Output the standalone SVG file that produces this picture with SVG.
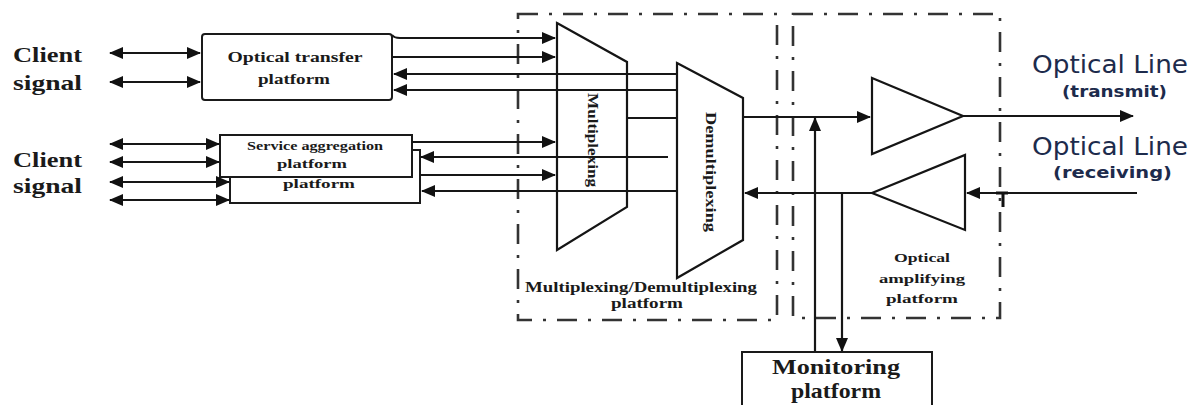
<svg xmlns="http://www.w3.org/2000/svg" width="1195" height="405" viewBox="0 0 1195 405">
<style>
.ln{stroke:#161616;stroke-width:2.2;fill:none}
.ar{marker-end:url(#ah)}
.da{marker-start:url(#ah);marker-end:url(#ah)}
.box{fill:#fff;stroke:#1a1a1a;stroke-width:2}
.dash{fill:none;stroke:#333;stroke-width:2.6;stroke-dasharray:20 11 3 11}
.lbl{font-family:"Liberation Serif","Times New Roman",serif;font-weight:bold;fill:#1a1a1a}
.ol{font-family:"DejaVu Sans",Verdana,sans-serif;fill:#1d2b4c}
</style>
<defs>
<marker id="ah" markerUnits="userSpaceOnUse" markerWidth="14" markerHeight="12" refX="13" refY="6" orient="auto-start-reverse" viewBox="0 0 14 12">
<path d="M0,0 L14,6 L0,12 z" fill="#111"/>
</marker>
</defs>
<rect width="1195" height="405" fill="#fff"/>

<g id="containers">
<path class="dash" d="M518,14 H777 V320 H518 Z"/>
<path class="dash" d="M793,14 H1000 V318 H793 Z"/>
</g>

<g id="client-labels">
<text class="lbl" x="13" y="62" font-size="22" textLength="69" lengthAdjust="spacingAndGlyphs">Client</text>
<text class="lbl" x="13" y="90" font-size="22" textLength="69" lengthAdjust="spacingAndGlyphs">signal</text>
<text class="lbl" x="13" y="167" font-size="22" textLength="69" lengthAdjust="spacingAndGlyphs">Client</text>
<text class="lbl" x="13" y="193" font-size="22" textLength="69" lengthAdjust="spacingAndGlyphs">signal</text>
</g>

<g id="service-platform-back">
<rect class="box" x="230" y="150" width="190" height="53"/>
<text class="lbl" x="319" y="188" font-size="12" text-anchor="middle" textLength="72" lengthAdjust="spacingAndGlyphs">platform</text>
</g>

<g id="service-aggregation-platform">
<rect class="box" x="220" y="135" width="192" height="42"/>
<text class="lbl" x="315" y="150" font-size="12" text-anchor="middle" textLength="136" lengthAdjust="spacingAndGlyphs">Service aggregation</text>
<text class="lbl" x="312" y="168" font-size="12" text-anchor="middle" textLength="70" lengthAdjust="spacingAndGlyphs">platform</text>
</g>

<g id="optical-transfer-platform">
<rect class="box" x="202" y="34" width="190" height="66" rx="3"/>
<text class="lbl" x="295" y="62" font-size="14" text-anchor="middle" textLength="135" lengthAdjust="spacingAndGlyphs">Optical transfer</text>
<text class="lbl" x="294" y="84" font-size="14" text-anchor="middle" textLength="72" lengthAdjust="spacingAndGlyphs">platform</text>
</g>

<g id="connectors">
<line class="ln da" x1="110" y1="53" x2="200" y2="53"/>
<line class="ln da" x1="110" y1="82" x2="200" y2="82"/>
<line class="ln da" x1="110" y1="144" x2="219" y2="144"/>
<line class="ln da" x1="110" y1="162" x2="219" y2="162"/>
<line class="ln da" x1="110" y1="182" x2="229" y2="182"/>
<line class="ln da" x1="110" y1="200" x2="229" y2="200"/>

<path class="ln ar" d="M392,35 Q394,38 400,38 H555"/>
<line class="ln ar" x1="392" y1="57" x2="555" y2="57"/>
<line class="ln ar" x1="677" y1="74" x2="394" y2="74"/>
<line class="ln ar" x1="677" y1="90" x2="394" y2="90"/>
<line class="ln" x1="627" y1="118" x2="677" y2="118"/>
<line class="ln ar" x1="412" y1="142" x2="555" y2="142"/>
<line class="ln ar" x1="668" y1="157" x2="421" y2="157"/>
<line class="ln ar" x1="420" y1="175" x2="555" y2="175"/>
<line class="ln ar" x1="677" y1="191" x2="422" y2="191"/>

<line class="ln ar" x1="743" y1="117" x2="870" y2="117"/>
<line class="ln ar" x1="963" y1="116" x2="1133" y2="116"/>
<line class="ln ar" x1="872" y1="193" x2="745" y2="193"/>
<line class="ln ar" x1="1137" y1="193" x2="967" y2="193"/>
<path d="M996,193 H1008 M1003,193 V207" stroke="#111" stroke-width="3" fill="none"/>

<line class="ln ar" x1="815" y1="352" x2="815" y2="118"/>
<line class="ln ar" x1="842" y1="193" x2="842" y2="351"/>
</g>

<g id="multiplexer">
<polygon points="557,23 627,62 627,207 557,250" fill="#fff" fill-opacity="0" stroke="#151515" stroke-width="2.2"/>
<text class="lbl" font-size="14" text-anchor="middle" transform="translate(588,140) rotate(90)" textLength="94" lengthAdjust="spacingAndGlyphs">Multiplexing</text>
</g>

<g id="demultiplexer">
<polygon points="677,63 743,98 743,240 677,278" fill="#fff" stroke="#151515" stroke-width="2.2"/>
<text class="lbl" font-size="14" text-anchor="middle" transform="translate(706,172) rotate(90)" textLength="120" lengthAdjust="spacingAndGlyphs">Demultiplexing</text>
</g>

<g id="mux-demux-label">
<text class="lbl" x="641" y="292" font-size="14" text-anchor="middle" textLength="232" lengthAdjust="spacingAndGlyphs">Multiplexing/Demultiplexing</text>
<text class="lbl" x="647" y="308" font-size="14" text-anchor="middle" textLength="72" lengthAdjust="spacingAndGlyphs">platform</text>
</g>

<g id="amplifier-transmit">
<polygon points="872,78 963,116 872,154" fill="#fff" stroke="#151515" stroke-width="2.2"/>
</g>

<g id="amplifier-receive">
<polygon points="965,155 965,230 872,193" fill="#fff" stroke="#151515" stroke-width="2.2"/>
</g>

<g id="amp-label">
<text class="lbl" x="922" y="262" font-size="13" text-anchor="middle" textLength="56" lengthAdjust="spacingAndGlyphs">Optical</text>
<text class="lbl" x="922" y="283" font-size="13" text-anchor="middle" textLength="86" lengthAdjust="spacingAndGlyphs">amplifying</text>
<text class="lbl" x="922" y="303" font-size="13" text-anchor="middle" textLength="72" lengthAdjust="spacingAndGlyphs">platform</text>
</g>

<g id="optical-line-labels">
<text class="ol" x="1032" y="73" font-size="25" textLength="156" lengthAdjust="spacingAndGlyphs">Optical Line</text>
<text class="ol" x="1062" y="97" font-size="16" font-weight="bold" textLength="105" lengthAdjust="spacingAndGlyphs">(transmit)</text>
<text class="ol" x="1032" y="155" font-size="25" textLength="156" lengthAdjust="spacingAndGlyphs">Optical Line</text>
<text class="ol" x="1053" y="178" font-size="16" font-weight="bold" textLength="119" lengthAdjust="spacingAndGlyphs">(receiving)</text>
</g>

<g id="monitoring-platform">
<rect class="box" x="742" y="352" width="190" height="60"/>
<text class="lbl" x="836" y="374" font-size="22" text-anchor="middle" textLength="128" lengthAdjust="spacingAndGlyphs">Monitoring</text>
<text class="lbl" x="836" y="398" font-size="22" text-anchor="middle" textLength="90" lengthAdjust="spacingAndGlyphs">platform</text>
</g>
</svg>
